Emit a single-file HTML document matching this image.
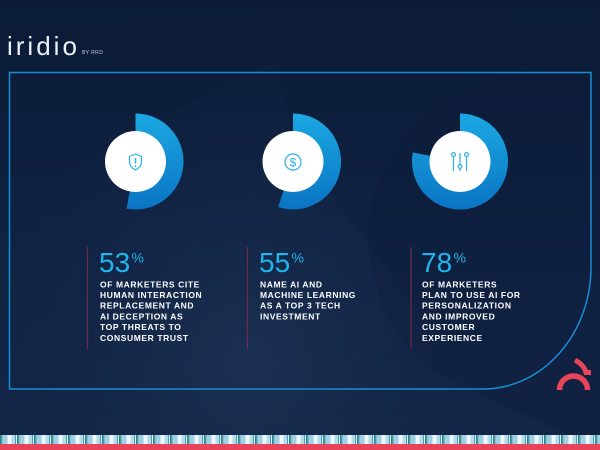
<!DOCTYPE html>
<html><head><meta charset="utf-8"><style>
html,body{margin:0;padding:0;background:#0f2141;}
svg{display:block;}
text{font-family:"Liberation Sans",sans-serif;}
</style></head><body>
<svg width="600" height="450" viewBox="0 0 600 450" xmlns="http://www.w3.org/2000/svg">
<defs>
<linearGradient id="bg" x1="0" y1="0" x2="0" y2="1">
<stop offset="0" stop-color="#0b1b35"/><stop offset="0.5" stop-color="#0f2242"/><stop offset="1" stop-color="#132648"/>
</linearGradient>
<radialGradient id="light" cx="250" cy="360" r="260" gradientUnits="userSpaceOnUse">
<stop offset="0" stop-color="#1d3256"/><stop offset="1" stop-color="#12244450"/>
</radialGradient>
<linearGradient id="arc" x1="0" y1="0" x2="0" y2="1">
<stop offset="0" stop-color="#1ba8e3"/><stop offset="1" stop-color="#0a74c3"/>
</linearGradient>
<pattern id="bar" x="0" y="435" width="17" height="9" patternUnits="userSpaceOnUse">
<rect width="17" height="9" fill="#cfe6f0"/>
<rect x="0" width="1.5" height="9" fill="#1f8a8c"/>
<rect x="1.5" width="1" height="9" fill="#7fa7b0"/>
<rect x="2.5" width="5" height="9" fill="#9fd0e6"/>
<rect x="7.5" width="4" height="9" fill="#eef7fb"/>
<rect x="11.5" width="3.5" height="9" fill="#b3dbea"/>
<rect x="15" width="1" height="9" fill="#4a9ab8"/>
<rect x="16" width="1" height="9" fill="#e6f3f8"/>
</pattern>
</defs>
<rect width="600" height="450" fill="url(#bg)"/>
<path d="M0 450 L0 210 C100 160 200 90 277 60 C285 120 300 160 330 193 L450 353 L560 450 Z" fill="url(#light)" opacity="0.8"/>
<path d="M600 60 C470 70 400 110 372 200 C360 260 380 330 430 370 L600 450 Z" fill="#0c1c37" opacity="0.3"/>

<!-- frame -->
<path d="M9.5 72.5 H591 V267 A108 122 0 0 1 483 389 H9.5 Z" fill="none" stroke="#178dd3" stroke-width="1.5"/>

<!-- title -->
<text x="7" y="55" font-size="26" fill="#eef2f7" letter-spacing="3">iridio</text>
<text x="82" y="54" font-size="5" fill="#c8d2e0" letter-spacing="0.4">BY RRD</text>

<!-- donut 1 -->
<path d="M135.5 161.5 L135.5 113.5 A48 48 0 1 1 126.5 208.65 Z" fill="url(#arc)"/>
<circle cx="135.5" cy="161.5" r="30.5" fill="#ffffff"/>
<path d="M135.5 154 L141.5 156.5 V161.5 C141.5 166 138.5 168.5 135.5 170 C132.5 168.5 129.5 166 129.5 161.5 V156.5 Z" fill="none" stroke="#2ab0ea" stroke-width="1.2" stroke-linejoin="round"/>
<line x1="135.5" y1="158" x2="135.5" y2="163.5" stroke="#2ab0ea" stroke-width="1.4"/>
<circle cx="135.5" cy="166" r="0.9" fill="#2ab0ea"/>

<!-- donut 2 -->
<path d="M293 161.5 L293 113.5 A48 48 0 1 1 278.2 207.15 Z" fill="url(#arc)"/>
<circle cx="293" cy="161.5" r="30.5" fill="#ffffff"/>
<circle cx="293" cy="162" r="8" fill="none" stroke="#2ab0ea" stroke-width="1.2"/>
<text x="293" y="166.5" font-size="12" fill="#2ab0ea" text-anchor="middle">$</text>

<!-- donut 3 -->
<path d="M460 161.5 L460 113.5 A48 48 0 1 1 412.85 152.5 Z" fill="url(#arc)"/>
<circle cx="460" cy="161.5" r="30.5" fill="#ffffff"/>
<g stroke="#2ab0ea" stroke-width="1.2" fill="#ffffff">
<line x1="453.5" y1="153" x2="453.5" y2="171"/>
<line x1="460" y1="153" x2="460" y2="171"/>
<line x1="466.5" y1="153" x2="466.5" y2="171"/>
<circle cx="453.5" cy="154.5" r="1.9"/>
<circle cx="460" cy="166.5" r="1.9"/>
<circle cx="466.5" cy="154.5" r="1.9"/>
</g>

<!-- dividers -->
<g stroke="#6e2b49" stroke-width="1.2">
<line x1="87.5" y1="247" x2="87.5" y2="349"/>
<line x1="247.5" y1="247" x2="247.5" y2="349"/>
<line x1="411" y1="247" x2="411" y2="349"/>
</g>

<!-- col 1 -->
<text x="99" y="272" font-size="28" fill="#1fb5ee">53</text>
<text x="131.5" y="262.5" font-size="14" fill="#1fb5ee">%</text>
<g font-size="8.5" font-weight="bold" fill="#ffffff" letter-spacing="0.6">
<text x="100" y="287.3">OF MARKETERS CITE</text>
<text x="100" y="298">HUMAN INTERACTION</text>
<text x="100" y="308.7">REPLACEMENT AND</text>
<text x="100" y="319.4">AI DECEPTION AS</text>
<text x="100" y="330.1">TOP THREATS TO</text>
<text x="100" y="340.8">CONSUMER TRUST</text>
</g>

<!-- col 2 -->
<text x="259" y="272" font-size="28" fill="#1fb5ee">55</text>
<text x="291.5" y="262.5" font-size="14" fill="#1fb5ee">%</text>
<g font-size="8.5" font-weight="bold" fill="#ffffff" letter-spacing="0.6">
<text x="260" y="287.3">NAME AI AND</text>
<text x="260" y="298">MACHINE LEARNING</text>
<text x="260" y="308.7">AS A TOP 3 TECH</text>
<text x="260" y="319.4">INVESTMENT</text>
</g>

<!-- col 3 -->
<text x="421" y="272" font-size="28" fill="#1fb5ee">78</text>
<text x="453.5" y="262.5" font-size="14" fill="#1fb5ee">%</text>
<g font-size="8.5" font-weight="bold" fill="#ffffff" letter-spacing="0.6">
<text x="422" y="287.3">OF MARKETERS</text>
<text x="422" y="298">PLAN TO USE AI FOR</text>
<text x="422" y="308.7">PERSONALIZATION</text>
<text x="422" y="319.4">AND IMPROVED</text>
<text x="422" y="330.1">CUSTOMER</text>
<text x="422" y="340.8">EXPERIENCE</text>
</g>

<!-- red logo -->
<path d="M559.5 390 A14 14 0 0 1 587.5 390" fill="none" stroke="#e8445a" stroke-width="5.5"/>
<path d="M575 360 Q584 365 586 372.5 L591 372.5" fill="none" stroke="#e8445a" stroke-width="5"/>

<!-- bottom strip -->
<rect x="0" y="435" width="600" height="9" fill="url(#bar)"/>
<rect x="0" y="444" width="600" height="6" fill="#e8435a"/>
</svg>
</body></html>
